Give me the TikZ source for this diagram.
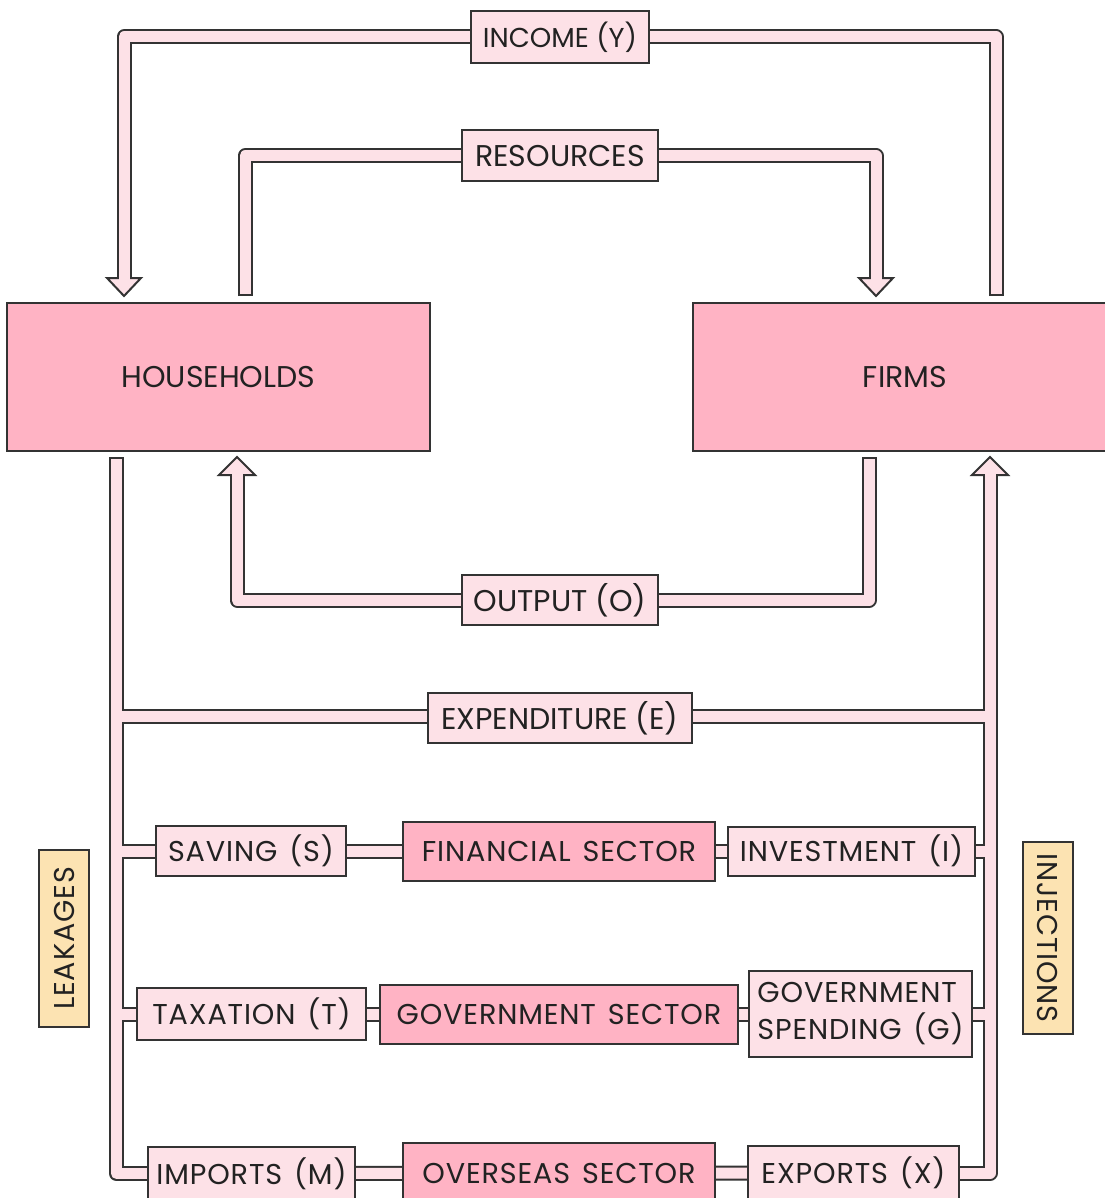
\documentclass[tikz,border=0pt]{standalone}
\usepackage{fontspec}
\setmainfont{Poppins}
\newfontfamily\spc[LetterSpace=3,WordSpace=1.4]{Poppins}
\usetikzlibrary{calc}
\definecolor{edge}{HTML}{333333}
\definecolor{lp}{HTML}{FDE1E7}
\definecolor{dp}{HTML}{FFB3C4}
\definecolor{tagc}{HTML}{FCE3B2}
\definecolor{txt}{HTML}{222222}
\pgfdeclarelayer{bg}
\pgfsetlayers{bg,main}
\begin{document}
\begin{tikzpicture}[x=0.75pt,y=-0.75pt,
  po/.style={line width=11.25pt, draw=edge, line join=round},
  pin/.style={line width=8.25pt, draw=lp, line join=round},
  box/.style={draw=edge, line width=1.5pt, inner sep=0pt, text=txt, font=\fontsize{22.5}{27.75}\selectfont},
  row/.style={font=\spc\fontsize{21.5}{27.75}\selectfont},
  lbox/.style={box, fill=lp},
  dbox/.style={box, fill=dp},
  tag/.style={box, fill=tagc, row},
  sz/.style 2 args={minimum width=#1*0.75pt, minimum height=#2*0.75pt},
  ahead/.style={fill=lp, draw=edge, line width=1.5pt, line join=miter},
  fo/.style={shorten <=1.5pt},
  ao/.style={shorten >=13.5pt},
  ai/.style={shorten >=12pt}
]
\useasboundingbox (0,0) rectangle (1105,1198);
% ---------- boxes ----------
\node[lbox, sz={178}{52}, font=\fontsize{20.5}{27.75}\selectfont] (inc) at (560,37) {INCOME (Y)};
\node[lbox, sz={196}{51}] (res) at (560,156) {RESOURCES};
\node[dbox, sz={423}{148}] (hh) at (218.5,377) {HOUSEHOLDS};
\node[dbox, sz={424}{148}] (firm) at (905,377) {FIRMS};
\node[lbox, sz={196}{50}] (out) at (560,600) {OUTPUT (O)};
\node[lbox, sz={264}{50}] (exd) at (560,718) {EXPENDITURE (E)};
\node[lbox, row, sz={190}{50}] (sav) at (251,851) {SAVING (S)};
\node[dbox, row, sz={312}{59}] (fin) at (559,851) {FINANCIAL SECTOR};
\node[lbox, row, sz={247}{49}] (inv) at (851.5,851) {INVESTMENT (I)};
\node[lbox, row, sz={229}{52}] (tax) at (251.5,1014) {TAXATION (T)};
\node[dbox, row, sz={358}{59}] (gov) at (559,1014) {GOVERNMENT SECTOR};
\node[lbox, row, sz={223}{86}, align=left] (gsp) at (860.5,1014) {GOVERNMENT\\SPENDING (G)};
\node[lbox, row, sz={207}{53}] (imp) at (251.5,1173.5) {IMPORTS (M)};
\node[dbox, row, sz={312}{60}] (ovs) at (559,1173) {OVERSEAS SECTOR};
\node[lbox, row, sz={211}{54}] (xpt) at (853.5,1173) {EXPORTS (X)};
\node[tag, sz={177}{50}, rotate=90] (leak) at (64,938.5) {LEAKAGES};
\node[tag, sz={192}{50}, rotate=-90] (inj) at (1048,938) {INJECTIONS};
% ---------- pipe paths ----------
\coordinate (incS) at (996,296);
\coordinate (incT) at (124,296);
\coordinate (resS) at (245,296);
\coordinate (resT) at (876,296);
\coordinate (outS) at (869,457);
\coordinate (outT) at (237,457);
\coordinate (lS) at (116.5,457);
\coordinate (rT) at (990,457);
\coordinate (jE) at (116.5,716);
\coordinate (kE) at (990,716);
\coordinate (jS) at (116.5,851);
\coordinate (kI) at (990,851);
\coordinate (jT) at (116.5,1014);
\coordinate (kG) at (990,1014);
\def\PY{(incS) |- (inc.center) -| (incT)}
\def\PRS{(resS) |- (res.center) -| (resT)}
\def\PO{(outS) |- (out.center) -| (outT)}
\def\PR{(xpt.center) -| (rT)}
\begin{pgfonlayer}{bg}
\fill[white] (0,0) rectangle (1105,1198);
% outer strokes
\draw[po, ao] \PY;
\draw[po, ao] \PRS;
\draw[po, ao] \PO;
\draw[po] (lS) |- (imp.center);
\draw[po, ao] \PR;
\draw[po] (jE) -- (kE);
\draw[po] (jS) -- (sav.center);
\draw[po] (jT) -- (tax.center);
\draw[po] (inv.center) -- (kI);
\draw[po] (gsp.center) -- (kG);
\draw[po] (sav.center) -- (fin.center) -- (inv.center);
\draw[po] (tax.center) -- (gov.center) -- (gsp.center);
\draw[po] (imp.center) -- (ovs.center) -- (xpt.center);
% arrowheads
\draw[ahead] (incT) -- ++(-17,-18) -- ++(34,0) -- cycle;
\draw[ahead] (resT) -- ++(-17,-18) -- ++(34,0) -- cycle;
\draw[ahead] (outT) -- ++(-18,18) -- ++(36,0) -- cycle;
\draw[ahead] (rT) -- ++(-18,18) -- ++(36,0) -- cycle;
% inner strokes
\draw[pin, fo, ai] \PY;
\draw[pin, fo, ai] \PRS;
\draw[pin, fo, ai] \PO;
\draw[pin, fo] (lS) |- (imp.center);
\draw[pin, ai] \PR;
\draw[pin] (jE) -- (kE);
\draw[pin] (jS) -- (sav.center);
\draw[pin] (jT) -- (tax.center);
\draw[pin] (inv.center) -- (kI);
\draw[pin] (gsp.center) -- (kG);
\draw[pin] (sav.center) -- (fin.center) -- (inv.center);
\draw[pin] (tax.center) -- (gov.center) -- (gsp.center);
\draw[pin] (imp.center) -- (ovs.center) -- (xpt.center);
\end{pgfonlayer}
\end{tikzpicture}
\end{document}
